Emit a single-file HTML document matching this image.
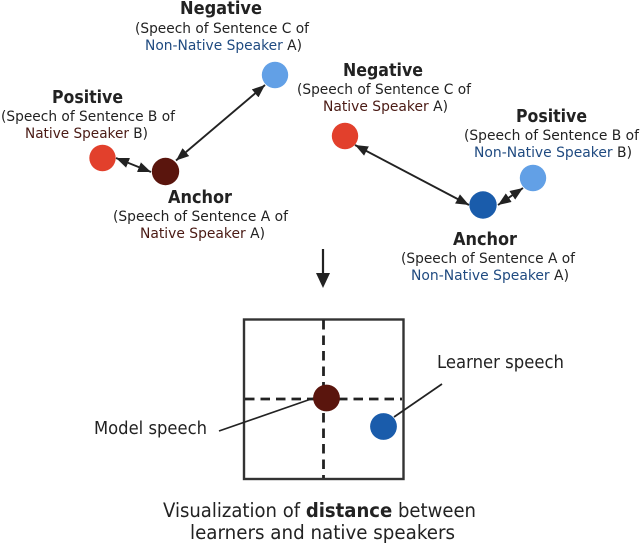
<!DOCTYPE html>
<html><head><meta charset="utf-8"><style>
html,body{margin:0;padding:0;background:#fff}
svg{display:block}
text{font-family:"DejaVu Sans","Liberation Sans",sans-serif;fill:#222}
.h{font-size:17.5px;font-weight:bold}
.s{font-size:14.5px}
.l{font-size:17.5px}
.c{font-size:19.5px}
.n{fill:#4a1a14}.b{fill:#1f4a80}
</style></head><body>
<svg width="640" height="544" viewBox="0 0 640 544" xmlns="http://www.w3.org/2000/svg">
<defs>
<marker id="a" viewBox="0 0 10 8" refX="10" refY="4" markerUnits="userSpaceOnUse" markerWidth="13" markerHeight="10.5" orient="auto-start-reverse"><path d="M0 0L10 4L0 8Z" fill="#222"/></marker>
</defs>
<g stroke="#222" stroke-width="1.9" fill="none">
<line x1="176" y1="160.5" x2="265" y2="85" marker-start="url(#a)" marker-end="url(#a)"/>
<line x1="116" y1="158" x2="151" y2="172" marker-start="url(#a)" marker-end="url(#a)"/>
<line x1="355" y1="145" x2="469" y2="205" marker-start="url(#a)" marker-end="url(#a)"/>
<line x1="498" y1="205" x2="523" y2="188" marker-start="url(#a)" marker-end="url(#a)"/>
</g>
<circle cx="275" cy="75" r="13.2" fill="#62a0e6"/>
<circle cx="102.5" cy="158" r="13.2" fill="#e2402c"/>
<circle cx="165.5" cy="171.5" r="13.7" fill="#5a150d"/>
<circle cx="345" cy="136" r="13.2" fill="#e2402c"/>
<circle cx="533" cy="178" r="13.2" fill="#62a0e6"/>
<circle cx="483" cy="205" r="13.7" fill="#1a5cab"/>

<text class="h" x="180" y="14" textLength="82" lengthAdjust="spacingAndGlyphs">Negative</text>
<text class="s" x="135" y="33" textLength="174" lengthAdjust="spacingAndGlyphs">(Speech of Sentence C of</text>
<text class="s" x="145" y="50" textLength="157" lengthAdjust="spacingAndGlyphs"><tspan class="b">Non-Native Speaker</tspan> A)</text>

<text class="h" x="52" y="103" textLength="71" lengthAdjust="spacingAndGlyphs">Positive</text>
<text class="s" x="1" y="121" textLength="174" lengthAdjust="spacingAndGlyphs">(Speech of Sentence B of</text>
<text class="s" x="25" y="138" textLength="123" lengthAdjust="spacingAndGlyphs"><tspan class="n">Native Speaker</tspan> B)</text>

<text class="h" x="168" y="203" textLength="64" lengthAdjust="spacingAndGlyphs">Anchor</text>
<text class="s" x="113" y="221" textLength="175" lengthAdjust="spacingAndGlyphs">(Speech of Sentence A of</text>
<text class="s" x="140" y="238" textLength="125" lengthAdjust="spacingAndGlyphs"><tspan class="n">Native Speaker</tspan> A)</text>

<text class="h" x="343" y="76" textLength="80" lengthAdjust="spacingAndGlyphs">Negative</text>
<text class="s" x="297" y="94" textLength="174" lengthAdjust="spacingAndGlyphs">(Speech of Sentence C of</text>
<text class="s" x="323" y="111" textLength="125" lengthAdjust="spacingAndGlyphs"><tspan class="n">Native Speaker</tspan> A)</text>

<text class="h" x="516" y="122" textLength="71" lengthAdjust="spacingAndGlyphs">Positive</text>
<text class="s" x="464" y="140" textLength="175" lengthAdjust="spacingAndGlyphs">(Speech of Sentence B of</text>
<text class="s" x="474" y="157" textLength="158" lengthAdjust="spacingAndGlyphs"><tspan class="b">Non-Native Speaker</tspan> B)</text>

<text class="h" x="453" y="245" textLength="64" lengthAdjust="spacingAndGlyphs">Anchor</text>
<text class="s" x="401" y="263" textLength="174" lengthAdjust="spacingAndGlyphs">(Speech of Sentence A of</text>
<text class="s" x="411" y="280" textLength="158" lengthAdjust="spacingAndGlyphs"><tspan class="b">Non-Native Speaker</tspan> A)</text>

<line x1="323" y1="249" x2="323" y2="276" stroke="#222" stroke-width="2.2"/>
<path d="M316 273L330 273L323 288Z" fill="#222"/>

<rect x="244" y="319.5" width="159.5" height="159.5" fill="none" stroke="#333" stroke-width="2.4"/>
<line x1="323.5" y1="320" x2="323.5" y2="478" stroke="#222" stroke-width="2.8" stroke-dasharray="9.5 6"/>
<line x1="245" y1="399" x2="402" y2="399" stroke="#222" stroke-width="2.8" stroke-dasharray="9.5 6"/>
<line x1="219" y1="431" x2="314" y2="398" stroke="#222" stroke-width="1.7"/>
<line x1="442" y1="384" x2="394" y2="417" stroke="#222" stroke-width="1.7"/>
<circle cx="326.5" cy="398" r="13.4" fill="#5a150d"/>
<circle cx="383.5" cy="426.5" r="13.4" fill="#1a5cab"/>

<text class="l" x="437" y="368" textLength="127" lengthAdjust="spacingAndGlyphs">Learner speech</text>
<text class="l" x="94" y="434" textLength="113" lengthAdjust="spacingAndGlyphs">Model speech</text>
<text class="c" x="163" y="517" textLength="313" lengthAdjust="spacingAndGlyphs">Visualization of <tspan font-weight="bold">distance</tspan> between</text>
<text class="c" x="190" y="539" textLength="265" lengthAdjust="spacingAndGlyphs">learners and native speakers</text>
</svg>
</body></html>
